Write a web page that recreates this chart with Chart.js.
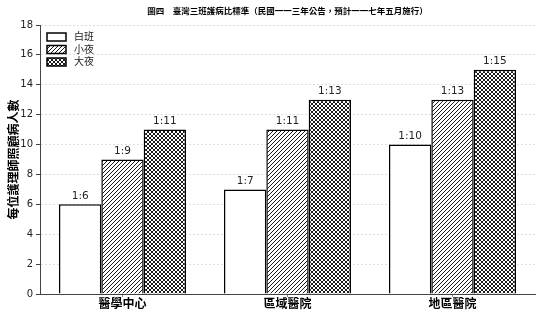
<!DOCTYPE html>
<html>
<head>
<meta charset="utf-8">
<script src="https://cdn.jsdelivr.net/npm/chart.js@4.4.1/dist/chart.umd.min.js"></script>
<style>
  html, body { margin: 0; padding: 0; background: #fff; }
  #wrap { width: 542px; height: 319px; }
</style>
</head>
<body>
<div id="wrap"><canvas id="chart" width="542" height="319"></canvas></div>
<script>
// ----------------------------
// Data
// ----------------------------
const categories = ["醫學中心", "區域醫院", "地區醫院"];
const seriesNames = ["白班", "小夜", "大夜"];
const dayShift = [6, 7, 10];
const eveningShift = [9, 11, 13];
const nightShift = [11, 13, 15];
const titleText = "圖四　臺灣三班護病比標準（民國一一三年公告，預計一一七年五月施行）";
const yTitle = "每位護理師照顧病人數";

const FONT = "'DejaVu Sans', 'Noto Sans CJK TC', sans-serif";

// ----------------------------
// Hatch patterns
// ----------------------------
function makeHatch(cross, size) {
  const c = document.createElement("canvas");
  c.width = size; c.height = size;
  const g = c.getContext("2d");
  g.fillStyle = "#fff";
  g.fillRect(0, 0, size, size);
  g.strokeStyle = "#000";
  g.lineWidth = 0.9;
  g.beginPath();
  for (let k = -1; k <= 1; k++) {
    g.moveTo(k * size, size);
    g.lineTo(k * size + size, 0);
    if (cross) {
      g.moveTo(k * size, 0);
      g.lineTo(k * size + size, size);
    }
  }
  g.stroke();
  return g.createPattern(c, "repeat");
}

const ctx = document.getElementById("chart").getContext("2d");
const fills = ["#ffffff", makeHatch(false, 4), makeHatch(true, 4)];
const seriesData = [dayShift, eveningShift, nightShift];

// ----------------------------
// Custom plugin: title, value labels, legend
// ----------------------------
const decorPlugin = {
  id: "decor",
  afterDatasetsDraw(chart) {
    const c = chart.ctx;
    const area = chart.chartArea;
    c.save();

    // title
    c.fillStyle = "#000";
    c.font = "bold 8.5px " + FONT;
    c.textAlign = "center";
    c.textBaseline = "middle";
    c.fillText(titleText, (area.left + area.right) / 2, 12);

    // value labels
    c.font = "10.5px " + FONT;
    c.fillStyle = "#222";
    c.textBaseline = "bottom";
    chart.data.datasets.forEach((ds, i) => {
      const meta = chart.getDatasetMeta(i);
      meta.data.forEach((bar, j) => {
        c.fillText("1:" + ds.data[j], bar.x, bar.y - 3);
      });
    });

    // legend
    c.textAlign = "left";
    c.textBaseline = "middle";
    c.font = "10px " + FONT;
    seriesNames.forEach((name, i) => {
      const y = area.top + 12 + i * 12.5;
      const x = area.left + 7;
      c.fillStyle = fills[i];
      c.fillRect(x, y - 4, 19, 8);
      c.strokeStyle = "#000";
      c.lineWidth = 1.5;
      c.strokeRect(x, y - 4, 19, 8);
      c.fillStyle = "#222";
      c.fillText(name, x + 27, y + 0.5);
    });
    c.restore();
  }
};

// ----------------------------
// Chart
// ----------------------------
new Chart(ctx, {
  type: "bar",
  data: {
    labels: categories,
    datasets: seriesNames.map((name, i) => ({
      label: name,
      data: seriesData[i],
      backgroundColor: fills[i],
      borderColor: "#000",
      borderWidth: 1.5,
      borderSkipped: "bottom",
      categoryPercentage: 0.77,
      barPercentage: 1.0
    }))
  },
  options: {
    responsive: false,
    animation: false,
    devicePixelRatio: 1,
    layout: { padding: { top: 25, right: 7, bottom: 0, left: 0 } },
    plugins: {
      legend: { display: false },
      title: { display: false },
      tooltip: { enabled: false }
    },
    scales: {
      x: {
        grid: { display: true, drawOnChartArea: false, drawTicks: true, offset: false, tickLength: 3, tickColor: "#888" },
        border: { color: "#444", width: 1 },
        ticks: { color: "#000", font: { family: FONT, size: 12, weight: "bold" }, padding: 1 },
        afterFit(scale) { scale.height = 25; }
      },
      y: {
        min: 0,
        max: 18,
        ticks: { stepSize: 2, color: "#222", font: { family: FONT, size: 10 }, padding: 3 },
        grid: {
          color: "#ddd",
          lineWidth: 1,
          tickColor: "#444",
          tickLength: 4,
          tickBorderDash: []
        },
        border: { color: "#444", width: 1, dash: [2, 2] },
        title: {
          display: true,
          text: yTitle,
          color: "#000",
          font: { family: FONT, size: 12, weight: "bold" },
          padding: { top: 8, bottom: 0 }
        },
        afterFit(scale) { scale.width = 40; }
      }
    }
  },
  plugins: [decorPlugin]
});
</script>
</body>
</html>
